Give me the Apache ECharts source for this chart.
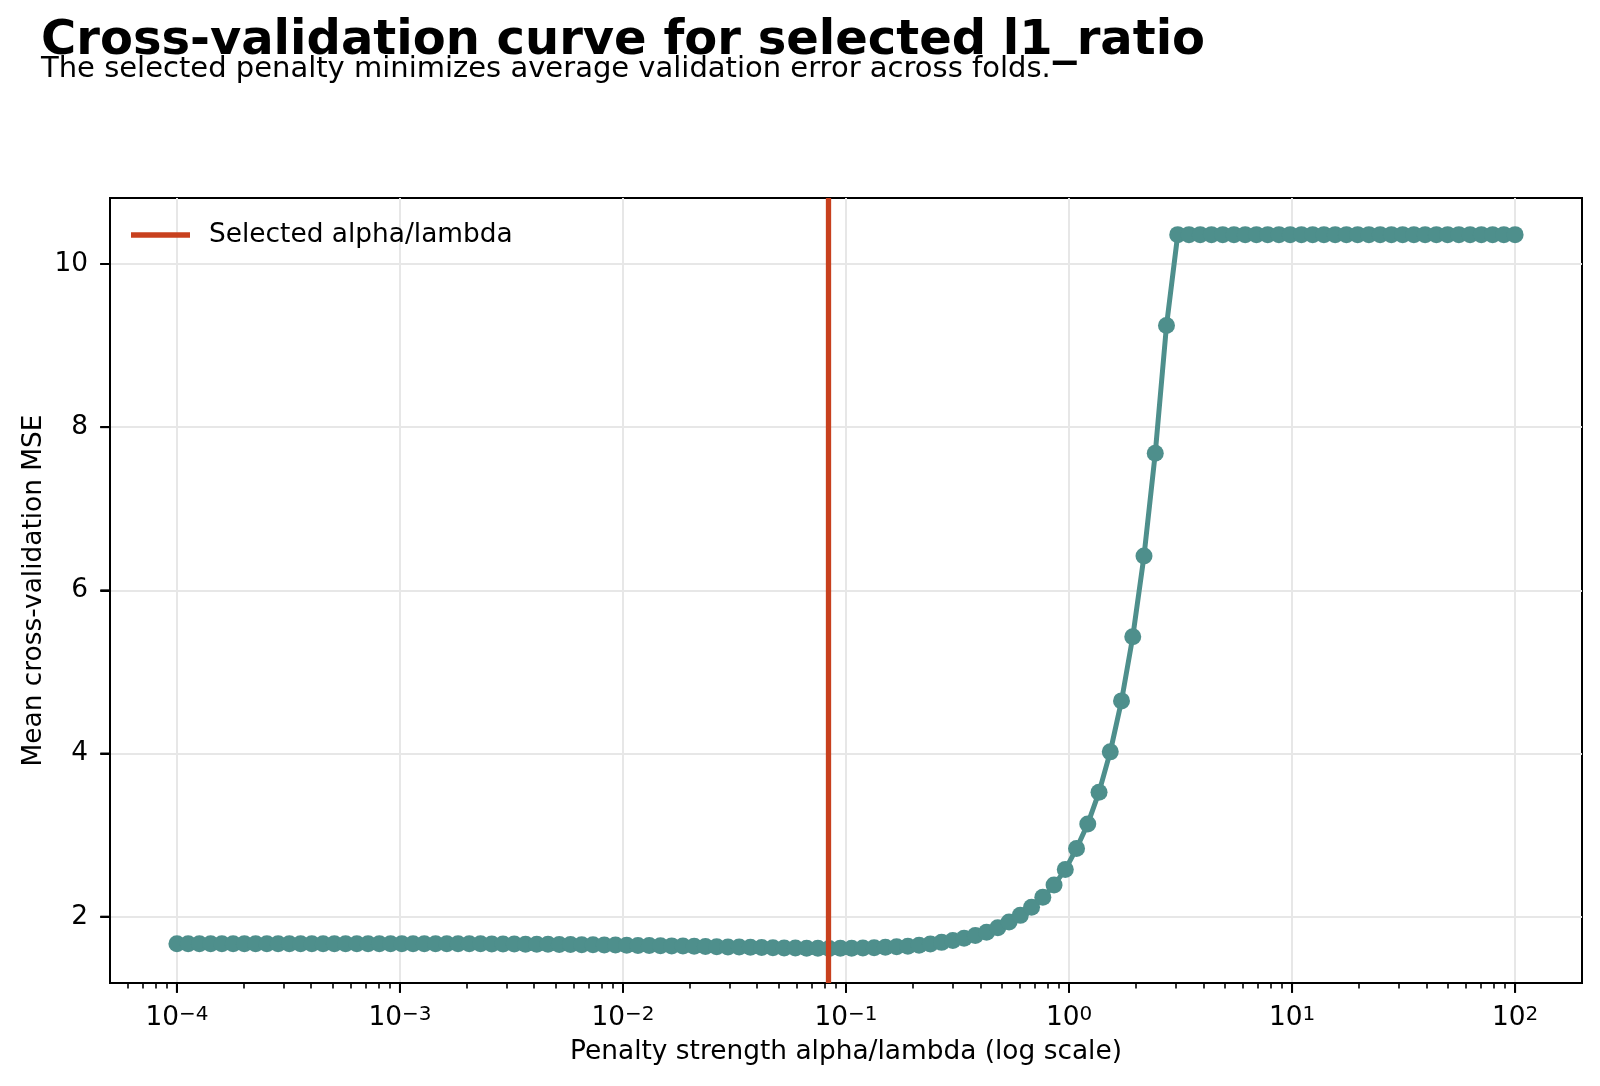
<!DOCTYPE html>
<html>
<head>
<meta charset="utf-8">
<script src="https://cdn.jsdelivr.net/npm/echarts@6/dist/echarts.min.js"></script>
<style>
  html, body { margin: 0; padding: 0; background: #fff; }
  #main { width: 1600px; height: 1086px; }
</style>
</head>
<body>
<div id="main"></div>
<script>
// log10(alpha) for the 120 penalty values on the grid
const alphaExp = [
  -4.0000, -3.9496, -3.8992, -3.8487, -3.7983, -3.7479, -3.6975, -3.6471, -3.5966, -3.5462,
  -3.4958, -3.4454, -3.3950, -3.3445, -3.2941, -3.2437, -3.1933, -3.1429, -3.0924, -3.0420,
  -2.9916, -2.9412, -2.8908, -2.8403, -2.7899, -2.7395, -2.6891, -2.6387, -2.5882, -2.5378,
  -2.4874, -2.4370, -2.3866, -2.3361, -2.2857, -2.2353, -2.1849, -2.1345, -2.0840, -2.0336,
  -1.9832, -1.9328, -1.8824, -1.8319, -1.7815, -1.7311, -1.6807, -1.6303, -1.5798, -1.5294,
  -1.4790, -1.4286, -1.3782, -1.3277, -1.2773, -1.2269, -1.1765, -1.1261, -1.0756, -1.0252,
  -0.9748, -0.9244, -0.8739, -0.8235, -0.7731, -0.7227, -0.6723, -0.6218, -0.5714, -0.5210,
  -0.4706, -0.4202, -0.3697, -0.3193, -0.2689, -0.2185, -0.1681, -0.1176, -0.0672, -0.0168,
  0.0336, 0.0840, 0.1345, 0.1849, 0.2353, 0.2857, 0.3361, 0.3866, 0.4370, 0.4874,
  0.5378, 0.5882, 0.6387, 0.6891, 0.7395, 0.7899, 0.8403, 0.8908, 0.9412, 0.9916,
  1.0420, 1.0924, 1.1429, 1.1933, 1.2437, 1.2941, 1.3445, 1.3950, 1.4454, 1.4958,
  1.5462, 1.5966, 1.6471, 1.6975, 1.7479, 1.7983, 1.8487, 1.8992, 1.9496, 2.0000
];

// mean cross-validation MSE at each alpha
const cvMse = [
  1.668, 1.668, 1.668, 1.668, 1.668, 1.668, 1.668, 1.668, 1.668, 1.668,
  1.668, 1.668, 1.668, 1.668, 1.668, 1.668, 1.668, 1.668, 1.668, 1.668,
  1.668, 1.667, 1.667, 1.667, 1.667, 1.667, 1.667, 1.667, 1.666, 1.665,
  1.664, 1.663, 1.662, 1.661, 1.660, 1.659, 1.657, 1.656, 1.654, 1.652,
  1.650, 1.648, 1.646, 1.644, 1.642, 1.640, 1.637, 1.635, 1.632, 1.629,
  1.627, 1.624, 1.622, 1.619, 1.617, 1.615, 1.613, 1.612, 1.611, 1.612,
  1.614, 1.616, 1.619, 1.624, 1.630, 1.638, 1.650, 1.665, 1.685, 1.708,
  1.735, 1.768, 1.810, 1.865, 1.934, 2.016, 2.116, 2.237, 2.387, 2.577,
  2.835, 3.137, 3.526, 4.020, 4.645, 5.430, 6.420, 7.680, 9.245, 10.36,
  10.36, 10.36, 10.36, 10.36, 10.36, 10.36, 10.36, 10.36, 10.36, 10.36,
  10.36, 10.36, 10.36, 10.36, 10.36, 10.36, 10.36, 10.36, 10.36, 10.36,
  10.36, 10.36, 10.36, 10.36, 10.36, 10.36, 10.36, 10.36, 10.36, 10.36
];

const selectedExp = -1.0756; // selected alpha/lambda (log10)
const xTickExp = [-4, -3, -2, -1, 0, 1, 2];
const yTicks = [2, 4, 6, 8, 10];

const FONT = "DejaVu Sans";
const TEAL = "#4e8f8c";
const RED = "#c8401e";

// minor log ticks (2..9 x 10^k) inside the view
const xMin = -4.3, xMax = 2.3;
const yMin = 1.187, yMax = 10.809;
const minorTicks = [];
for (let k = -5; k <= 2; k++) {
  for (let m = 2; m <= 9; m++) {
    const v = k + Math.log10(m);
    if (v > xMin && v < xMax) minorTicks.push(v);
  }
}

// short outward tick marks drawn through the axis scales
function tickMark(dx, dy) {
  return function (params, api) {
    const p = api.coord([api.value(0), api.value(1)]);
    return {
      type: "line",
      shape: { x1: p[0], y1: p[1], x2: p[0] + dx, y2: p[1] + dy },
      style: { stroke: "#000", lineWidth: 2 },
    };
  };
}

const chart = echarts.init(document.getElementById("main"));
const option = {
  animation: false,
  backgroundColor: "#fff",
  textStyle: { fontFamily: FONT },
  title: [
    {
      text: "Cross-validation curve for selected l1_ratio",
      left: 41,
      top: 18,
      padding: 0,
      textStyle: { fontFamily: FONT, fontSize: 48, fontWeight: "bold", color: "#000" },
    },
    {
      text: "The selected penalty minimizes average validation error across folds.",
      left: 41,
      top: 55,
      padding: 0,
      textStyle: { fontFamily: FONT, fontSize: 29, fontWeight: "normal", color: "#000" },
    },
  ],
  legend: {
    data: ["Selected alpha/lambda"],
    icon: "rect",
    left: 131,
    top: 222,
    padding: 0,
    itemWidth: 59,
    itemHeight: 5.3,
    textStyle: { fontFamily: FONT, fontSize: 26.4, color: "#000", padding: [0, 0, 0, 14] },
  },
  grid: {
    left: 110,
    right: 18,
    top: 198,
    bottom: 103,
    show: true,
    borderColor: "#000",
    borderWidth: 2,
    containLabel: false,
  },
  xAxis: [
    {
      type: "value",
      min: xMin,
      max: xMax,
      name: "Penalty strength alpha/lambda (log scale)",
      nameLocation: "middle",
      nameGap: 56,
      nameTextStyle: { fontFamily: FONT, fontSize: 26.4, color: "#000" },
      axisLine: { show: true, onZero: false, lineStyle: { color: "#000", width: 2 } },
      axisTick: {
        show: true,
        customValues: xTickExp,
        length: 9.7,
        lineStyle: { color: "#000", width: 2 },
      },
      axisLabel: {
        customValues: xTickExp,
        margin: 22,
        color: "#000",
        formatter: (v) => "{b|10}{s|" + (v < 0 ? "\u2212" : "") + Math.abs(v) + "}",
        rich: {
          b: { fontFamily: FONT, fontSize: 26.4, lineHeight: 26.4, color: "#000", verticalAlign: "top" },
          s: { fontFamily: FONT, fontSize: 20, lineHeight: 12, color: "#000", verticalAlign: "top" },
        },
      },
      splitLine: { show: true, lineStyle: { color: "#e7e7e7", width: 2 } },
    },
    {
      type: "value",
      min: xMin,
      max: xMax,
      position: "bottom",
      axisLine: { show: false, onZero: false },
      axisTick: {
        show: true,
        customValues: minorTicks,
        length: 5.5,
        lineStyle: { color: "#000", width: 1.6 },
      },
      axisLabel: { show: false },
      splitLine: { show: false },
    },
  ],
  yAxis: {
    type: "value",
    min: yMin,
    max: yMax,
    position: "left",
    name: "Mean cross-validation MSE",
    nameLocation: "middle",
    nameGap: 63,
    nameMoveOverlap: false,
    nameTextStyle: { fontFamily: FONT, fontSize: 26.4, color: "#000" },
    axisLine: { show: true, onZero: false, lineStyle: { color: "#000", width: 2 } },
    axisTick: {
      show: true,
      customValues: yTicks,
      length: 9.7,
      lineStyle: { color: "#000", width: 2 },
    },
    axisLabel: {
      customValues: yTicks,
      margin: 22,
      fontFamily: FONT,
      fontSize: 26.4,
      color: "#000",
    },
    splitLine: { show: true, lineStyle: { color: "#e7e7e7", width: 2 } },
  },
  series: [
    {
      name: "Mean CV MSE",
      type: "line",
      data: alphaExp.map((e, i) => [e, cvMse[i]]),
      symbol: "circle",
      symbolSize: 17,
      showAllSymbol: true,
      lineStyle: { color: TEAL, width: 5 },
      itemStyle: { color: TEAL },
      z: 3,
    },
    {
      name: "Selected alpha/lambda",
      type: "line",
      data: [],
      symbol: "none",
      lineStyle: { color: RED, width: 5.3 },
      itemStyle: { color: RED },
      z: 4,
      markLine: {
        silent: true,
        symbol: "none",
        label: { show: false },
        lineStyle: { color: RED, width: 5.3, type: "solid" },
        data: [{ xAxis: selectedExp }],
      },
    },
    {
      // y major tick marks on the left edge
      name: "yticks",
      type: "custom",
      silent: true,
      clip: false,
      z: 5,
      data: yTicks.map((v) => [xMin, v]),
      renderItem: tickMark(-9.7, 0),
    },
    {
      // x major tick marks on the bottom edge
      name: "xticks",
      type: "custom",
      silent: true,
      clip: false,
      z: 5,
      data: xTickExp.map((v) => [v, yMin]),
      renderItem: tickMark(0, 9.7),
    },
  ],
};
chart.setOption(option);
</script>
</body>
</html>
